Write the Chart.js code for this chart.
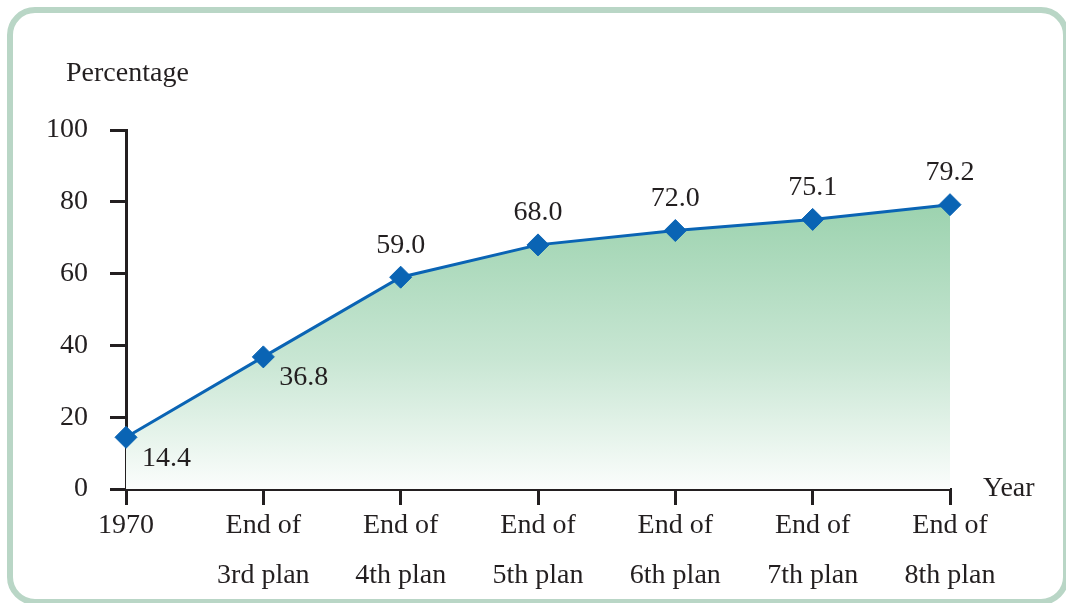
<!DOCTYPE html>
<html>
<head>
<meta charset="utf-8">
<script src="https://cdn.jsdelivr.net/npm/chart.js@4"></script>
<style>
  html, body { margin: 0; padding: 0; background: #fff; }
  .wrap { position: relative; width: 1066px; height: 603px; overflow: hidden; }
  .frame {
    position: absolute; left: 7px; top: 7px; width: 1062px; height: 598px;
    border: 6px solid #b9d6c6; border-radius: 28px; box-sizing: border-box;
    pointer-events: none;
  }
  canvas { position: absolute; left: 0; top: 0; }
</style>
</head>
<body>
<div class="wrap">
  <div class="frame"></div>
  <canvas id="chart" width="1066" height="603"></canvas>
</div>
<script>
// Share of something over the plan periods
const categories = ['1970', ['End of', '3rd plan'], ['End of', '4th plan'], ['End of', '5th plan'],
  ['End of', '6th plan'], ['End of', '7th plan'], ['End of', '8th plan']];
const values = [14.4, 36.8, 59.0, 68.0, 72.0, 75.1, 79.2];
const valueLabels = ['14.4', '36.8', '59.0', '68.0', '72.0', '75.1', '79.2'];
const labelSides = ['below', 'below', 'above', 'above', 'above', 'above', 'above'];
const yTicks = [0, 20, 40, 60, 80, 100];

const ink = '#231f20';
const serif = '"Liberation Serif", "DejaVu Serif", serif';

// Value labels plus the two axis captions
const labelPlugin = {
  id: 'valueLabels',
  afterDatasetsDraw(chart) {
    const ctx = chart.ctx;
    const meta = chart.getDatasetMeta(0);
    const area = chart.chartArea;
    ctx.save();
    ctx.font = '28px ' + serif;
    ctx.fillStyle = ink;
    ctx.textBaseline = 'middle';
    meta.data.forEach((pt, i) => {
      if (labelSides[i] === 'below') {
        ctx.textAlign = 'left';
        ctx.fillText(valueLabels[i], pt.x + 16, pt.y + 21);
      } else {
        ctx.textAlign = 'center';
        ctx.fillText(valueLabels[i], pt.x, pt.y - 32);
      }
    });
    ctx.textAlign = 'left';
    ctx.fillText('Percentage', 66, area.top - 56);
    ctx.fillText('Year', area.right + 33, area.bottom);
    ctx.restore();
  }
};

const ctx = document.getElementById('chart').getContext('2d');

new Chart(ctx, {
  type: 'line',
  data: {
    labels: categories,
    datasets: [{
      data: values,
      borderColor: '#0a64b4',
      borderWidth: 3,
      tension: 0,
      fill: 'origin',
      backgroundColor: (c) => {
        const area = c.chart.chartArea;
        if (!area) return 'rgba(0,0,0,0)';
        const g = c.chart.ctx.createLinearGradient(0, area.top + 70, 0, area.bottom);
        g.addColorStop(0, '#9bd2ae');
        g.addColorStop(0.55, '#c8e6d3');
        g.addColorStop(1, '#fbfdfc');
        return g;
      },
      pointStyle: 'rectRot',
      pointRadius: 11,
      pointBackgroundColor: '#0a64b4',
      pointBorderColor: '#0a64b4',
      pointBorderWidth: 1
    }]
  },
  options: {
    responsive: false,
    devicePixelRatio: 1,
    animation: false,
    layout: { padding: { left: 0, right: 116, top: 130, bottom: 0 } },
    plugins: {
      legend: { display: false },
      tooltip: { enabled: false }
    },
    scales: {
      x: {
        type: 'category',
        offset: false,
        afterFit: (s) => { s.height = 114; },
        grid: {
          drawOnChartArea: false,
          drawTicks: true,
          tickLength: 16,
          color: ink,
          lineWidth: 3
        },
        border: { display: true, color: ink, width: 3 },
        ticks: {
          color: ink,
          font: { family: serif, size: 28, lineHeight: 1.8 },
          padding: -5,
          maxRotation: 0,
          autoSkip: false
        }
      },
      y: {
        min: 0,
        max: 100,
        afterFit: (s) => { s.width = 126; },
        afterBuildTicks: (s) => { s.ticks = yTicks.map(v => ({ value: v })); },
        grid: {
          drawOnChartArea: false,
          drawTicks: true,
          tickLength: 16,
          color: ink,
          lineWidth: 3
        },
        border: { display: true, color: ink, width: 3 },
        ticks: {
          color: ink,
          font: { family: serif, size: 28 },
          padding: 22
        }
      }
    }
  },
  plugins: [labelPlugin]
});
</script>
</body>
</html>
